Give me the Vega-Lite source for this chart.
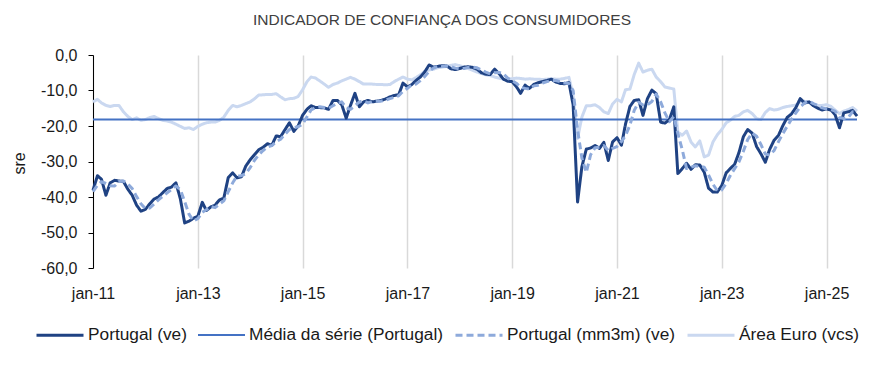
{
"$schema": "https://vega.github.io/schema/vega-lite/v6.json",
"width": 764, "height": 213,
"autosize": {"type": "none"},
"padding": {"left": 93, "top": 55, "right": 26, "bottom": 120},
"background": "white",
"config": {"view": {"stroke": null}, "font": "Liberation Sans", "line": {"strokeJoin": "round"}},
"title": {"text": "INDICADOR DE CONFIANÇA DOS CONSUMIDORES", "fontSize": 15.5, "fontWeight": "normal", "color": "#404040", "anchor": "middle", "dx": -33, "offset": 19, "font": "Liberation Sans"},
"data": {"format": {"parse": {"d": "date:'%Y-%m'"}}, "values": [
{"d":"2011-01","pt":-38.1,"mm":-38.5,"ea":-13.2},{"d":"2011-02","pt":-34.0,"mm":-36.7,"ea":-12.5},{"d":"2011-03","pt":-35.0,"mm":-35.7,"ea":-13.5},{"d":"2011-04","pt":-39.5,"mm":-36.2,"ea":-14.2},{"d":"2011-05","pt":-36.0,"mm":-36.8,"ea":-14.5},{"d":"2011-06","pt":-35.3,"mm":-36.9,"ea":-14.2},{"d":"2011-07","pt":-35.5,"mm":-35.6,"ea":-14.2},{"d":"2011-08","pt":-35.6,"mm":-35.5,"ea":-16.0},{"d":"2011-09","pt":-37.8,"mm":-36.3,"ea":-17.3},{"d":"2011-10","pt":-39.5,"mm":-37.6,"ea":-18.2},{"d":"2011-11","pt":-42.3,"mm":-39.9,"ea":-17.7},{"d":"2011-12","pt":-44.0,"mm":-41.9,"ea":-18.4},
{"d":"2012-01","pt":-43.5,"mm":-43.3,"ea":-18.2},{"d":"2012-02","pt":-41.9,"mm":-43.1,"ea":-17.6},{"d":"2012-03","pt":-40.6,"mm":-42.0,"ea":-17.3},{"d":"2012-04","pt":-40.0,"mm":-40.8,"ea":-17.9},{"d":"2012-05","pt":-38.8,"mm":-39.8,"ea":-18.4},{"d":"2012-06","pt":-37.6,"mm":-38.8,"ea":-18.6},{"d":"2012-07","pt":-37.2,"mm":-37.9,"ea":-18.9},{"d":"2012-08","pt":-36.0,"mm":-36.9,"ea":-19.5},{"d":"2012-09","pt":-40.5,"mm":-37.9,"ea":-20.1},{"d":"2012-10","pt":-47.3,"mm":-41.3,"ea":-20.7},{"d":"2012-11","pt":-46.8,"mm":-44.9,"ea":-20.5},{"d":"2012-12","pt":-46.0,"mm":-46.7,"ea":-21.0},
{"d":"2013-01","pt":-45.4,"mm":-46.1,"ea":-20.1},{"d":"2013-02","pt":-41.5,"mm":-44.3,"ea":-19.5},{"d":"2013-03","pt":-43.8,"mm":-43.6,"ea":-19.1},{"d":"2013-04","pt":-42.8,"mm":-42.7,"ea":-18.9},{"d":"2013-05","pt":-42.3,"mm":-43.0,"ea":-18.9},{"d":"2013-06","pt":-40.8,"mm":-42.0,"ea":-18.4},{"d":"2013-07","pt":-40.3,"mm":-41.1,"ea":-17.5},{"d":"2013-08","pt":-34.5,"mm":-38.5,"ea":-15.6},{"d":"2013-09","pt":-33.2,"mm":-36.0,"ea":-14.2},{"d":"2013-10","pt":-34.6,"mm":-34.1,"ea":-14.6},{"d":"2013-11","pt":-34.3,"mm":-34.0,"ea":-14.2},{"d":"2013-12","pt":-31.3,"mm":-33.4,"ea":-13.7},
{"d":"2014-01","pt":-29.5,"mm":-31.7,"ea":-13.2},{"d":"2014-02","pt":-28.0,"mm":-29.6,"ea":-12.3},{"d":"2014-03","pt":-26.7,"mm":-28.1,"ea":-11.3},{"d":"2014-04","pt":-26.0,"mm":-26.9,"ea":-11.2},{"d":"2014-05","pt":-25.0,"mm":-25.9,"ea":-11.1},{"d":"2014-06","pt":-25.4,"mm":-25.5,"ea":-11.1},{"d":"2014-07","pt":-22.8,"mm":-24.4,"ea":-10.9},{"d":"2014-08","pt":-23.0,"mm":-23.7,"ea":-11.8},{"d":"2014-09","pt":-21.0,"mm":-22.3,"ea":-12.6},{"d":"2014-10","pt":-19.1,"mm":-21.0,"ea":-12.3},{"d":"2014-11","pt":-21.5,"mm":-20.5,"ea":-12.2},{"d":"2014-12","pt":-20.0,"mm":-20.2,"ea":-11.7},
{"d":"2015-01","pt":-17.0,"mm":-19.5,"ea":-9.8},{"d":"2015-02","pt":-15.3,"mm":-17.4,"ea":-7.5},{"d":"2015-03","pt":-14.3,"mm":-15.5,"ea":-6.2},{"d":"2015-04","pt":-14.8,"mm":-14.8,"ea":-6.5},{"d":"2015-05","pt":-14.8,"mm":-14.6,"ea":-7.3},{"d":"2015-06","pt":-14.9,"mm":-14.8,"ea":-8.2},{"d":"2015-07","pt":-15.3,"mm":-15.0,"ea":-9.1},{"d":"2015-08","pt":-12.8,"mm":-14.3,"ea":-8.3},{"d":"2015-09","pt":-12.8,"mm":-13.6,"ea":-7.9},{"d":"2015-10","pt":-14.0,"mm":-13.2,"ea":-7.3},{"d":"2015-11","pt":-17.8,"mm":-14.9,"ea":-6.8},{"d":"2015-12","pt":-14.2,"mm":-15.3,"ea":-6.3},
{"d":"2016-01","pt":-10.8,"mm":-14.3,"ea":-6.8},{"d":"2016-02","pt":-14.6,"mm":-13.2,"ea":-7.5},{"d":"2016-03","pt":-13.2,"mm":-12.9,"ea":-8.2},{"d":"2016-04","pt":-12.8,"mm":-13.5,"ea":-8.2},{"d":"2016-05","pt":-13.2,"mm":-13.1,"ea":-8.2},{"d":"2016-06","pt":-13.0,"mm":-13.0,"ea":-8.3},{"d":"2016-07","pt":-12.8,"mm":-13.0,"ea":-8.3},{"d":"2016-08","pt":-12.4,"mm":-12.7,"ea":-8.4},{"d":"2016-09","pt":-11.8,"mm":-12.3,"ea":-8.3},{"d":"2016-10","pt":-11.4,"mm":-11.9,"ea":-7.5},{"d":"2016-11","pt":-11.2,"mm":-11.5,"ea":-6.8},{"d":"2016-12","pt":-7.9,"mm":-10.2,"ea":-6.2},
{"d":"2017-01","pt":-9.0,"mm":-9.4,"ea":-6.8},{"d":"2017-02","pt":-8.3,"mm":-8.4,"ea":-7.0},{"d":"2017-03","pt":-7.2,"mm":-8.2,"ea":-6.4},{"d":"2017-04","pt":-6.2,"mm":-7.2,"ea":-5.6},{"d":"2017-05","pt":-4.8,"mm":-6.1,"ea":-4.6},{"d":"2017-06","pt":-2.8,"mm":-4.6,"ea":-4.2},{"d":"2017-07","pt":-3.4,"mm":-3.7,"ea":-4.0},{"d":"2017-08","pt":-3.2,"mm":-3.1,"ea":-3.6},{"d":"2017-09","pt":-3.0,"mm":-3.2,"ea":-3.4},{"d":"2017-10","pt":-3.1,"mm":-3.1,"ea":-3.2},{"d":"2017-11","pt":-3.9,"mm":-3.3,"ea":-2.9},{"d":"2017-12","pt":-4.1,"mm":-3.7,"ea":-2.7},
{"d":"2018-01","pt":-3.8,"mm":-3.9,"ea":-3.0},{"d":"2018-02","pt":-3.4,"mm":-3.8,"ea":-3.4},{"d":"2018-03","pt":-3.3,"mm":-3.5,"ea":-3.8},{"d":"2018-04","pt":-3.5,"mm":-3.4,"ea":-4.3},{"d":"2018-05","pt":-4.0,"mm":-3.6,"ea":-4.8},{"d":"2018-06","pt":-5.0,"mm":-4.2,"ea":-5.2},{"d":"2018-07","pt":-5.4,"mm":-4.8,"ea":-5.6},{"d":"2018-08","pt":-5.5,"mm":-5.3,"ea":-5.8},{"d":"2018-09","pt":-4.0,"mm":-5.0,"ea":-6.2},{"d":"2018-10","pt":-5.2,"mm":-4.9,"ea":-6.5},{"d":"2018-11","pt":-6.8,"mm":-5.3,"ea":-6.8},{"d":"2018-12","pt":-7.4,"mm":-6.5,"ea":-6.8},
{"d":"2019-01","pt":-7.5,"mm":-7.2,"ea":-6.7},{"d":"2019-02","pt":-9.0,"mm":-8.0,"ea":-6.5},{"d":"2019-03","pt":-10.8,"mm":-9.1,"ea":-6.6},{"d":"2019-04","pt":-8.5,"mm":-9.4,"ea":-6.8},{"d":"2019-05","pt":-9.4,"mm":-9.6,"ea":-6.7},{"d":"2019-06","pt":-8.3,"mm":-8.7,"ea":-6.8},{"d":"2019-07","pt":-7.8,"mm":-8.5,"ea":-6.8},{"d":"2019-08","pt":-7.5,"mm":-7.9,"ea":-6.9},{"d":"2019-09","pt":-7.2,"mm":-7.5,"ea":-6.8},{"d":"2019-10","pt":-6.8,"mm":-7.2,"ea":-6.7},{"d":"2019-11","pt":-7.6,"mm":-7.2,"ea":-6.8},{"d":"2019-12","pt":-8.0,"mm":-7.5,"ea":-6.8},
{"d":"2020-01","pt":-8.1,"mm":-7.9,"ea":-6.6},{"d":"2020-02","pt":-7.8,"mm":-8.0,"ea":-6.3},{"d":"2020-03","pt":-14.0,"mm":-10.0,"ea":-11.4},{"d":"2020-04","pt":-41.4,"mm":-21.1,"ea":-23.5},{"d":"2020-05","pt":-31.5,"mm":-29.0,"ea":-17.5},{"d":"2020-06","pt":-26.5,"mm":-33.1,"ea":-14.3},{"d":"2020-07","pt":-26.2,"mm":-28.1,"ea":-14.3},{"d":"2020-08","pt":-25.5,"mm":-26.1,"ea":-14.0},{"d":"2020-09","pt":-26.3,"mm":-26.0,"ea":-14.8},{"d":"2020-10","pt":-24.6,"mm":-25.5,"ea":-16.0},{"d":"2020-11","pt":-29.7,"mm":-26.9,"ea":-16.5},{"d":"2020-12","pt":-24.5,"mm":-26.3,"ea":-13.8},
{"d":"2021-01","pt":-23.3,"mm":-25.8,"ea":-12.5},{"d":"2021-02","pt":-25.4,"mm":-24.4,"ea":-13.2},{"d":"2021-03","pt":-19.5,"mm":-22.7,"ea":-9.8},{"d":"2021-04","pt":-14.5,"mm":-19.8,"ea":-9.6},{"d":"2021-05","pt":-12.8,"mm":-15.6,"ea":-5.5},{"d":"2021-06","pt":-12.6,"mm":-13.3,"ea":-2.3},{"d":"2021-07","pt":-17.0,"mm":-14.1,"ea":-4.8},{"d":"2021-08","pt":-12.3,"mm":-14.0,"ea":-4.3},{"d":"2021-09","pt":-9.9,"mm":-13.1,"ea":-4.0},{"d":"2021-10","pt":-10.9,"mm":-11.0,"ea":-6.2},{"d":"2021-11","pt":-18.9,"mm":-13.2,"ea":-7.5},{"d":"2021-12","pt":-19.2,"mm":-16.3,"ea":-9.0},
{"d":"2022-01","pt":-18.2,"mm":-18.8,"ea":-9.3},{"d":"2022-02","pt":-14.6,"mm":-17.3,"ea":-9.6},{"d":"2022-03","pt":-33.4,"mm":-22.1,"ea":-21.7},{"d":"2022-04","pt":-32.0,"mm":-26.7,"ea":-22.6},{"d":"2022-05","pt":-30.5,"mm":-32.0,"ea":-21.4},{"d":"2022-06","pt":-32.2,"mm":-31.6,"ea":-24.5},{"d":"2022-07","pt":-30.9,"mm":-31.2,"ea":-25.9},{"d":"2022-08","pt":-31.0,"mm":-31.4,"ea":-24.2},{"d":"2022-09","pt":-33.0,"mm":-31.6,"ea":-28.7},{"d":"2022-10","pt":-37.5,"mm":-33.8,"ea":-28.2},{"d":"2022-11","pt":-38.6,"mm":-36.4,"ea":-24.5},{"d":"2022-12","pt":-38.6,"mm":-38.2,"ea":-22.5},
{"d":"2023-01","pt":-36.8,"mm":-38.0,"ea":-21.0},{"d":"2023-02","pt":-33.2,"mm":-36.2,"ea":-19.1},{"d":"2023-03","pt":-32.0,"mm":-34.0,"ea":-18.4},{"d":"2023-04","pt":-30.8,"mm":-32.0,"ea":-17.3},{"d":"2023-05","pt":-27.5,"mm":-30.1,"ea":-17.0},{"d":"2023-06","pt":-23.0,"mm":-27.1,"ea":-16.0},{"d":"2023-07","pt":-21.0,"mm":-23.8,"ea":-15.6},{"d":"2023-08","pt":-22.0,"mm":-22.0,"ea":-16.5},{"d":"2023-09","pt":-25.8,"mm":-22.9,"ea":-17.9},{"d":"2023-10","pt":-27.8,"mm":-25.2,"ea":-18.2},{"d":"2023-11","pt":-30.2,"mm":-27.9,"ea":-16.2},{"d":"2023-12","pt":-26.6,"mm":-28.2,"ea":-15.1},
{"d":"2024-01","pt":-24.0,"mm":-26.9,"ea":-15.5},{"d":"2024-02","pt":-22.6,"mm":-24.4,"ea":-15.3},{"d":"2024-03","pt":-20.0,"mm":-22.2,"ea":-14.8},{"d":"2024-04","pt":-17.6,"mm":-20.1,"ea":-14.5},{"d":"2024-05","pt":-16.6,"mm":-18.1,"ea":-14.3},{"d":"2024-06","pt":-14.8,"mm":-16.3,"ea":-14.1},{"d":"2024-07","pt":-12.3,"mm":-14.6,"ea":-13.2},{"d":"2024-08","pt":-13.5,"mm":-13.5,"ea":-13.0},{"d":"2024-09","pt":-13.2,"mm":-13.0,"ea":-13.4},{"d":"2024-10","pt":-14.3,"mm":-13.7,"ea":-14.0},{"d":"2024-11","pt":-15.0,"mm":-14.2,"ea":-14.2},{"d":"2024-12","pt":-15.5,"mm":-14.9,"ea":-14.2},
{"d":"2025-01","pt":-15.2,"mm":-15.2,"ea":-14.0},{"d":"2025-02","pt":-15.5,"mm":-15.4,"ea":-14.5},{"d":"2025-03","pt":-16.8,"mm":-15.8,"ea":-15.5},{"d":"2025-04","pt":-20.5,"mm":-17.6,"ea":-16.5},{"d":"2025-05","pt":-16.3,"mm":-17.9,"ea":-15.8},{"d":"2025-06","pt":-16.0,"mm":-17.6,"ea":-15.4},{"d":"2025-07","pt":-15.6,"mm":-16.0,"ea":-14.8},{"d":"2025-08","pt":-17.2,"mm":-16.3,"ea":-15.8}
]},
"encoding": {
"x": {"field": "d", "type": "temporal",
  "scale": {"domain": [{"year":2011,"month":1,"date":1},{"year":2025,"month":8,"date":1}]},
  "axis": {"title": null, "values": [{"year":2011,"month":1,"date":1},{"year":2013,"month":1,"date":1},{"year":2015,"month":1,"date":1},{"year":2017,"month":1,"date":1},{"year":2019,"month":1,"date":1},{"year":2021,"month":1,"date":1},{"year":2023,"month":1,"date":1},{"year":2025,"month":1,"date":1}],
    "labelExpr": "'jan-' + timeFormat(datum.value, '%y')", "grid": true, "gridColor": "#d9d9d9", "gridWidth": 1.5, "domain": false, "ticks": false, "labelPadding": 17, "labelFontSize": 16, "labelColor": "#1a1a1a", "labelFlush": false, "labelOverlap": false}}
},
"layer": [
{"mark": {"type": "line"},
 "encoding": {
  "y": {"field": "ea", "type": "quantitative", "title": "sre",
   "scale": {"domain": [-60, 0], "nice": false, "zero": false},
   "axis": {"title": "sre", "values": [0,-10,-20,-30,-40,-50,-60], "tickCount": 7, "labelOverlap": false, "labelExpr": "replace(replace(format(datum.value, '.1f'), '.', ','), '\u2212', '-')", "grid": false, "domainColor": "#000000", "tickColor": "#000000", "tickSize": 5, "labelPadding": 11, "labelFontSize": 16, "labelColor": "#1a1a1a", "titleFontSize": 16, "titleFontWeight": "normal", "titleColor": "#1a1a1a", "titleX": -66, "titleY": 108}},
  "color": {"datum": "ea", "type": "nominal",
   "scale": {"domain": ["pt","media","mm","ea"], "range": ["#1f4283","#4472c4","#8eaadb","#cad8f0"]},
   "legend": {"orient": "none", "legendX": -58, "legendY": 255, "direction": "horizontal", "title": null, "symbolType": "stroke", "symbolSize": 2209, "labelFontSize": 17.3, "labelColor": "#1a1a1a", "labelOffset": 3, "columnPadding": 10, "labelLimit": 0,
    "labelExpr": "{'pt': 'Portugal (ve)', 'media': 'Média da série (Portugal)', 'mm': 'Portugal (mm3m) (ve)', 'ea': 'Área Euro (vcs)'}[datum.label]"}},
  "strokeDash": {"datum": "ea", "type": "nominal", "scale": {"domain": ["pt","media","mm","ea"], "range": [[1,0],[1,0],[7,4],[1,0]]}},
  "strokeWidth": {"datum": "ea", "type": "nominal", "scale": {"type": "ordinal", "domain": ["pt","media","mm","ea"], "range": [3,2,3,3]}}
 }},
{"data": {"format": {"parse": {"d": "date:'%Y-%m'"}}, "values": [{"d":"2011-01","avg":-18.2},{"d":"2025-08","avg":-18.2}]},
 "mark": {"type": "line"},
 "encoding": {
  "y": {"field": "avg", "type": "quantitative", "title": "sre",
   "scale": {"domain": [-60, 0], "nice": false, "zero": false},
   "axis": {"title": "sre", "values": [0,-10,-20,-30,-40,-50,-60], "tickCount": 7, "labelOverlap": false, "labelExpr": "replace(replace(format(datum.value, '.1f'), '.', ','), '\u2212', '-')", "grid": false, "domainColor": "#000000", "tickColor": "#000000", "tickSize": 5, "labelPadding": 11, "labelFontSize": 16, "labelColor": "#1a1a1a", "titleFontSize": 16, "titleFontWeight": "normal", "titleColor": "#1a1a1a", "titleX": -66, "titleY": 108}},
  "color": {"datum": "media", "type": "nominal", "scale": {"domain": ["pt","media","mm","ea"], "range": ["#1f4283","#4472c4","#8eaadb","#cad8f0"]}},
  "strokeDash": {"datum": "media", "type": "nominal", "scale": {"domain": ["pt","media","mm","ea"], "range": [[1,0],[1,0],[7,4],[1,0]]}},
  "strokeWidth": {"datum": "media", "type": "nominal", "scale": {"type": "ordinal", "domain": ["pt","media","mm","ea"], "range": [3,2,3,3]}}
 }},
{"mark": {"type": "line"},
 "encoding": {
  "y": {"field": "pt", "type": "quantitative", "title": "sre",
   "scale": {"domain": [-60, 0], "nice": false, "zero": false},
   "axis": {"title": "sre", "values": [0,-10,-20,-30,-40,-50,-60], "tickCount": 7, "labelOverlap": false, "labelExpr": "replace(replace(format(datum.value, '.1f'), '.', ','), '\u2212', '-')", "grid": false, "domainColor": "#000000", "tickColor": "#000000", "tickSize": 5, "labelPadding": 11, "labelFontSize": 16, "labelColor": "#1a1a1a", "titleFontSize": 16, "titleFontWeight": "normal", "titleColor": "#1a1a1a", "titleX": -66, "titleY": 108}},
  "color": {"datum": "pt", "type": "nominal", "scale": {"domain": ["pt","media","mm","ea"], "range": ["#1f4283","#4472c4","#8eaadb","#cad8f0"]}},
  "strokeDash": {"datum": "pt", "type": "nominal", "scale": {"domain": ["pt","media","mm","ea"], "range": [[1,0],[1,0],[7,4],[1,0]]}},
  "strokeWidth": {"datum": "pt", "type": "nominal", "scale": {"type": "ordinal", "domain": ["pt","media","mm","ea"], "range": [3,2,3,3]}}
 }},
{"mark": {"type": "line"},
 "encoding": {
  "y": {"field": "mm", "type": "quantitative", "title": "sre",
   "scale": {"domain": [-60, 0], "nice": false, "zero": false},
   "axis": {"title": "sre", "values": [0,-10,-20,-30,-40,-50,-60], "tickCount": 7, "labelOverlap": false, "labelExpr": "replace(replace(format(datum.value, '.1f'), '.', ','), '\u2212', '-')", "grid": false, "domainColor": "#000000", "tickColor": "#000000", "tickSize": 5, "labelPadding": 11, "labelFontSize": 16, "labelColor": "#1a1a1a", "titleFontSize": 16, "titleFontWeight": "normal", "titleColor": "#1a1a1a", "titleX": -66, "titleY": 108}},
  "color": {"datum": "mm", "type": "nominal", "scale": {"domain": ["pt","media","mm","ea"], "range": ["#1f4283","#4472c4","#8eaadb","#cad8f0"]}},
  "strokeDash": {"datum": "mm", "type": "nominal", "scale": {"domain": ["pt","media","mm","ea"], "range": [[1,0],[1,0],[7,4],[1,0]]}},
  "strokeWidth": {"datum": "mm", "type": "nominal", "scale": {"type": "ordinal", "domain": ["pt","media","mm","ea"], "range": [3,2,3,3]}}
 }}
]
}
